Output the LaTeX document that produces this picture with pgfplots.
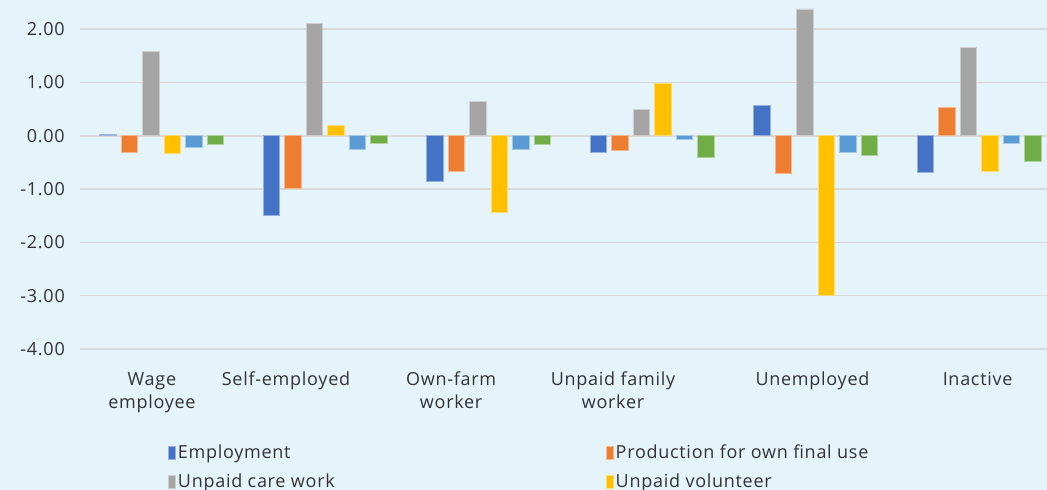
\documentclass[border=0pt]{standalone}
\usepackage{fontspec}
\setmainfont{Open Sans}[LetterSpace=4]
\usepackage{pgfplots}
\pgfplotsset{compat=1.18}
\definecolor{bgblue}{HTML}{E5F3FB}
\definecolor{gridgray}{HTML}{D9D9D9}
\definecolor{txt}{HTML}{333333}
\definecolor{cblue}{HTML}{4472C4}
\definecolor{corange}{HTML}{ED7D31}
\definecolor{cgray}{HTML}{A5A5A5}
\definecolor{cyellow}{HTML}{FFC000}
\definecolor{clblue}{HTML}{5B9BD5}
\definecolor{cgreen}{HTML}{70AD47}

\begin{document}
\fontsize{18}{23}\selectfont
\begin{tikzpicture}[x=1pt,y=1pt]
\fill[bgblue] (0,0) rectangle (1047,490);
\begin{axis}[
  at={(80pt,141pt)}, anchor=south west,
  scale only axis, width=981pt, height=346.5pt,
  xmin=-0.5, xmax=5.5, ymin=-4, ymax=2.5,
  ybar=5pt, bar width=16.5pt,
  axis line style={draw=none},
  major tick length=0pt,
  ytick={-4,-3,-2,-1,0,1,2},
  yticklabels={-4.00,-3.00,-2.00,-1.00,0.00,1.00,2.00},
  yticklabel style={inner sep=0pt, anchor=east, xshift=-15pt, text=txt},
  ymajorgrids, grid style={line width=1.5pt, gridgray},
  xtick={-0.06,0.76,1.77,2.76,3.98,4.99},
  xticklabels={{Wage\\employee},{Self-employed},{Own-farm\\worker},{Unpaid family\\worker},{Unemployed},{Inactive}},
  xticklabel style={align=center, inner sep=0pt, anchor=north, yshift=-23pt, text=txt},
  legend columns=2,
  legend cell align=left,
  legend style={draw=none, fill=none, at={(0.0866,-0.265)}, anchor=north west,
    text=txt, row sep=8pt, /tikz/every odd column/.append style={column sep=0pt}},
  legend image code/.code={\fill[#1] (0pt,-6.5pt) rectangle (7pt,6.5pt);},
]
\addplot[fill=cblue, draw=cblue!55!white, line width=0.8pt] coordinates {(0,0.02) (1,-1.49) (2,-0.86) (3,-0.32) (4,0.57) (5,-0.68)};
\addlegendentry{\makebox[426pt][l]{Employment}}
\addplot[fill=corange, draw=corange!55!white, line width=0.8pt] coordinates {(0,-0.31) (1,-0.99) (2,-0.66) (3,-0.28) (4,-0.71) (5,0.53)};
\addlegendentry{Production for own final use}
\addplot[fill=cgray, draw=cgray!55!white, line width=0.8pt] coordinates {(0,1.58) (1,2.10) (2,0.64) (3,0.50) (4,2.38) (5,1.65)};
\addlegendentry{\makebox[426pt][l]{Unpaid care work}}
\addplot[fill=cyellow, draw=cyellow!55!white, line width=0.8pt] coordinates {(0,-0.34) (1,0.19) (2,-1.44) (3,0.98) (4,-3.00) (5,-0.66)};
\addlegendentry{Unpaid volunteer}
\addplot[fill=clblue, draw=clblue!55!white, line width=0.8pt] coordinates {(0,-0.22) (1,-0.26) (2,-0.25) (3,-0.07) (4,-0.32) (5,-0.14)};
\addplot[fill=cgreen, draw=cgreen!55!white, line width=0.8pt] coordinates {(0,-0.16) (1,-0.14) (2,-0.16) (3,-0.41) (4,-0.37) (5,-0.48)};
\end{axis}
\pgfresetboundingbox
\useasboundingbox (0,0) rectangle (1047,490);
\end{tikzpicture}
\end{document}
